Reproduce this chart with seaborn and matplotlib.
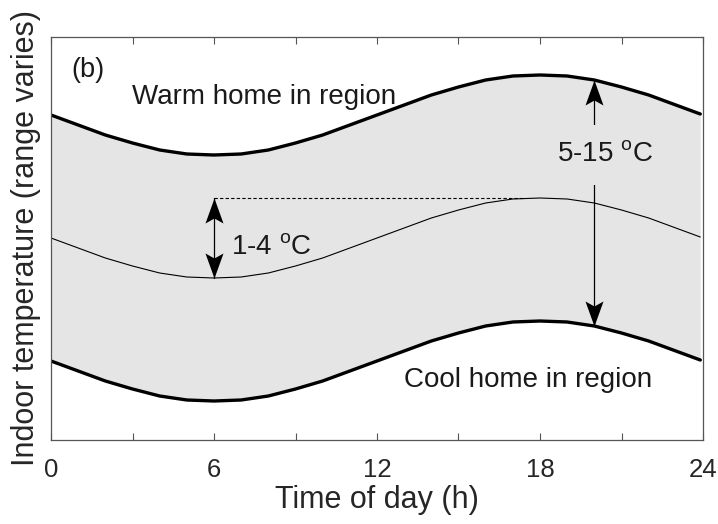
"""
Indoor temperature band over a day: warm home, cool home and a typical home.
"""

import matplotlib
matplotlib.use("Agg")
import matplotlib.pyplot as plt
from matplotlib.path import Path
from matplotlib.ticker import MultipleLocator
import seaborn as sns

# hour of day (last point stops just short of 24)
hours = [0, 1, 2, 3, 4, 5, 6, 7, 8, 9, 10, 11, 12,
         13, 14, 15, 16, 17, 18, 19, 20, 21, 22, 23, 23.9]

# indoor temperature, arbitrary units (range varies)
warm_home = [325, 315, 305, 297, 290, 286, 285, 286, 290, 297, 305, 315, 325,
             335, 345, 353, 360, 364, 365, 364, 360, 353, 345, 335, 326]
mid_home = [202, 192, 182, 174, 167, 163, 162, 163, 167, 174, 182, 192, 202,
            212, 222, 230, 237, 241, 242, 241, 237, 230, 222, 212, 203]
cool_home = [79, 69, 59, 51, 44, 40, 39, 40, 44, 51, 59, 69, 79,
             89, 99, 107, 114, 118, 119, 118, 114, 107, 99, 89, 80]

x_ticks = [0, 6, 12, 18, 24]
small_range_label = "1-4 $^{\\rm o}$C"
big_range_label = "5-15 $^{\\rm o}$C"

FILL = "#e5e5e5"
AXIS_GREY = "#555555"

# MATLAB-like arrow heads with a notched back, tip sits on the point
HEAD_UP = Path([(0, 0), (-0.36, -1), (0, -0.8), (0.36, -1), (0, 0)],
               [Path.MOVETO, Path.LINETO, Path.LINETO, Path.LINETO, Path.CLOSEPOLY])
HEAD_DOWN = Path([(0, 0), (-0.36, 1), (0, 0.8), (0.36, 1), (0, 0)],
                 [Path.MOVETO, Path.LINETO, Path.LINETO, Path.LINETO, Path.CLOSEPOLY])


def double_arrow(ax, x, y_low, y_high):
    ax.plot([x, x], [y_low, y_high], color="black", lw=0.9)
    ax.plot([x], [y_high], marker=HEAD_UP, ms=36, color="black", mew=0)
    ax.plot([x], [y_low], marker=HEAD_DOWN, ms=36, color="black", mew=0)


def main():
    sns.set_theme(style="white")
    plt.rcParams["font.family"] = ["Liberation Sans", "DejaVu Sans"]
    plt.rcParams["mathtext.fontset"] = "custom"
    plt.rcParams["mathtext.rm"] = "Liberation Sans"
    plt.rcParams["text.color"] = "#1a1a1a"

    fig = plt.figure(figsize=(7.18, 5.24), dpi=100)
    ax = fig.add_axes([51 / 718, 84 / 524, 652 / 718, 403 / 524])

    ax.fill_between(hours, cool_home, warm_home, color=FILL, lw=0)
    sns.lineplot(x=hours, y=warm_home, color="black", lw=2.4, ax=ax)
    sns.lineplot(x=hours, y=cool_home, color="black", lw=2.4, ax=ax)
    sns.lineplot(x=hours, y=mid_home, color="black", lw=0.8, ax=ax)

    # dashed reference at the daily peak of the middle curve
    i_min = mid_home.index(min(mid_home))
    ax.hlines(max(mid_home), hours[i_min], 17.4, colors="black", lw=0.8,
              linestyles=(0, (3, 2)))

    double_arrow(ax, hours[i_min], mid_home[i_min], max(mid_home))
    double_arrow(ax, hours[20], cool_home[20], warm_home[20])

    ax.text(6.62, 192, small_range_label, fontsize=20, ha="left", va="center")
    ax.text(20.4, 285, big_range_label, fontsize=20, ha="center", va="center",
            bbox=dict(facecolor=FILL, edgecolor="none", pad=12), zorder=5)
    ax.text(3.0, 343, "Warm home in region", fontsize=20, va="center")
    ax.text(13.0, 60, "Cool home in region", fontsize=20, va="center")
    ax.text(0.75, 370, "(b)", fontsize=19.5, va="center")

    ax.set_xlim(0, 24)
    ax.set_ylim(0, 403)
    ax.set_xticks(x_ticks)
    ax.xaxis.set_minor_locator(MultipleLocator(3))
    ax.set_yticks([])
    ax.tick_params(axis="x", which="both", direction="in", length=5, width=0.8,
                   color=AXIS_GREY, top=True, bottom=True, labelsize=18.5, pad=13)
    for s in ax.spines.values():
        s.set_visible(True)
        s.set_color(AXIS_GREY)
        s.set_linewidth(0.9)

    ax.set_xlabel("Time of day (h)", fontsize=22, labelpad=2)
    ax.set_ylabel("Indoor temperature (range varies)", fontsize=22, labelpad=7)

    fig.savefig("out.png", dpi=100)
    plt.close(fig)


if __name__ == "__main__":
    main()
